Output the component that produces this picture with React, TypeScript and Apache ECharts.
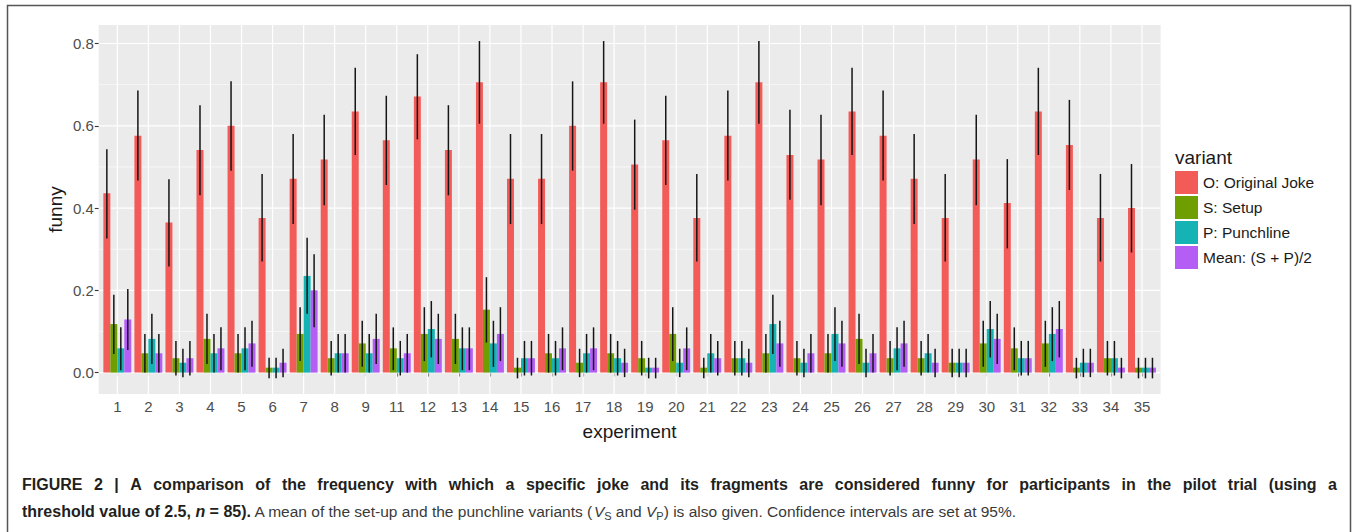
import React, { useEffect, useRef } from "react";
import * as echarts from "echarts";

const experiments = ["1", "2", "3", "4", "5", "6", "7", "8", "9", "11", "12", "13", "14", "15", "16", "17", "18", "19", "20", "21", "22", "23", "24", "25", "26", "27", "28", "29", "30", "31", "32", "33", "34", "35"];
const variantNames = ["O: Original Joke", "S: Setup", "P: Punchline", "Mean: (S + P)/2"];
const yTicks = [0, 0.2, 0.4, 0.6, 0.8];
const yMinor = [0.1, 0.3, 0.5, 0.7];

const origVals = [0.436, 0.576, 0.365, 0.541, 0.600, 0.376, 0.471, 0.518, 0.635, 0.565, 0.671, 0.541, 0.706, 0.471, 0.471, 0.600, 0.706, 0.506, 0.565, 0.376, 0.576, 0.706, 0.529, 0.518, 0.635, 0.576, 0.471, 0.376, 0.518, 0.412, 0.635, 0.553, 0.376, 0.400];
const origLo = [0.326, 0.467, 0.258, 0.431, 0.491, 0.270, 0.361, 0.407, 0.529, 0.456, 0.567, 0.431, 0.605, 0.361, 0.361, 0.491, 0.605, 0.396, 0.456, 0.270, 0.467, 0.605, 0.420, 0.407, 0.529, 0.467, 0.361, 0.270, 0.407, 0.302, 0.529, 0.444, 0.270, 0.292];
const origHi = [0.543, 0.686, 0.470, 0.650, 0.708, 0.483, 0.580, 0.627, 0.741, 0.673, 0.774, 0.650, 0.806, 0.580, 0.580, 0.708, 0.806, 0.615, 0.673, 0.483, 0.686, 0.806, 0.639, 0.627, 0.741, 0.686, 0.580, 0.483, 0.627, 0.519, 0.741, 0.663, 0.483, 0.507];

const setupVals = [0.118, 0.047, 0.035, 0.082, 0.047, 0.012, 0.094, 0.035, 0.071, 0.059, 0.094, 0.082, 0.153, 0.012, 0.047, 0.024, 0.047, 0.035, 0.094, 0.012, 0.035, 0.047, 0.035, 0.047, 0.082, 0.035, 0.035, 0.024, 0.071, 0.059, 0.071, 0.012, 0.035, 0.012];
const setupLo = [0.045, 0.000, -0.007, 0.021, 0.000, -0.014, 0.028, -0.007, 0.014, 0.006, 0.028, 0.021, 0.073, -0.014, 0.000, -0.011, 0.000, -0.007, 0.028, -0.014, -0.007, 0.000, -0.007, 0.000, 0.021, -0.007, -0.007, -0.011, 0.014, 0.006, 0.014, -0.014, -0.007, -0.014];
const setupHi = [0.189, 0.094, 0.077, 0.143, 0.094, 0.036, 0.159, 0.077, 0.126, 0.110, 0.159, 0.143, 0.232, 0.036, 0.094, 0.058, 0.094, 0.077, 0.159, 0.036, 0.077, 0.094, 0.077, 0.094, 0.143, 0.077, 0.077, 0.058, 0.126, 0.110, 0.126, 0.036, 0.077, 0.036];

const punchVals = [0.059, 0.082, 0.024, 0.047, 0.059, 0.012, 0.235, 0.047, 0.047, 0.035, 0.106, 0.059, 0.071, 0.035, 0.035, 0.047, 0.035, 0.012, 0.024, 0.047, 0.035, 0.118, 0.024, 0.094, 0.024, 0.059, 0.047, 0.024, 0.106, 0.035, 0.094, 0.024, 0.035, 0.012];
const punchLo = [0.006, 0.021, -0.011, 0.000, 0.006, -0.014, 0.143, 0.000, 0.000, -0.007, 0.037, 0.006, 0.014, -0.007, -0.007, 0.000, -0.007, -0.014, -0.011, 0.000, -0.007, 0.045, -0.011, 0.028, -0.011, 0.006, 0.000, -0.011, 0.037, -0.007, 0.028, -0.011, -0.007, -0.014];
const punchHi = [0.110, 0.143, 0.058, 0.094, 0.110, 0.036, 0.328, 0.094, 0.094, 0.077, 0.174, 0.110, 0.126, 0.077, 0.077, 0.094, 0.077, 0.036, 0.058, 0.094, 0.077, 0.189, 0.058, 0.159, 0.058, 0.110, 0.094, 0.058, 0.174, 0.077, 0.159, 0.058, 0.077, 0.036];

const meanVals = [0.129, 0.047, 0.035, 0.059, 0.071, 0.024, 0.200, 0.047, 0.082, 0.047, 0.082, 0.059, 0.094, 0.035, 0.059, 0.059, 0.024, 0.012, 0.059, 0.035, 0.024, 0.071, 0.047, 0.071, 0.047, 0.071, 0.024, 0.024, 0.082, 0.035, 0.106, 0.024, 0.012, 0.012];
const meanLo = [0.055, 0.000, -0.007, 0.006, 0.014, -0.011, 0.110, 0.000, 0.021, 0.000, 0.021, 0.006, 0.028, -0.007, 0.006, 0.006, -0.011, -0.014, 0.006, -0.007, -0.011, 0.014, 0.000, 0.014, 0.000, 0.014, -0.011, -0.011, 0.021, -0.007, 0.037, -0.011, -0.014, -0.014];
const meanHi = [0.203, 0.094, 0.077, 0.110, 0.126, 0.058, 0.288, 0.094, 0.143, 0.094, 0.143, 0.110, 0.159, 0.077, 0.110, 0.110, 0.058, 0.036, 0.110, 0.077, 0.058, 0.126, 0.094, 0.126, 0.094, 0.126, 0.058, 0.058, 0.143, 0.077, 0.174, 0.058, 0.036, 0.036];

const captionLine1 = "FIGURE 2 | A comparison of the frequency with which a specific joke and its fragments are considered funny for participants in the pilot trial (using a";

const FONT = "'Liberation Sans', Arial, Helvetica, sans-serif";
const COLORS = ["#F35B58", "#6E9E00", "#16B3B5", "#B45EF6"];
const CAP_SIZE = 16;

function justifiedRich(text: string, targetWidth: number) {
  const words = text.split(" ");
  let spaceW = 4.5;
  try {
    const ctx = document.createElement("canvas").getContext("2d");
    if (ctx) {
      ctx.font = `bold ${CAP_SIZE}px 'Liberation Sans', Arial, sans-serif`;
      const sum = words.reduce((s, w) => s + ctx.measureText(w).width, 0);
      spaceW = (targetWidth - sum) / (words.length - 1);
    }
  } catch (e) {
    // keep default spacing
  }
  return { str: words.map((w) => `{b|${w}}`).join("{sp| }"), spaceW };
}

export default function App() {
  const ref = useRef<HTMLDivElement>(null);

  useEffect(() => {
    const chart = echarts.init(ref.current!, null, { renderer: "svg" });
    const vals = [origVals, setupVals, punchVals, meanVals];
    const los = [origLo, setupLo, punchLo, meanLo];
    const his = [origHi, setupHi, punchHi, meanHi];

    const barSeries = variantNames.map((name, k) => ({
      name,
      type: "bar",
      z: 3,
      data: vals[k],
      barGap: "0%",
      barCategoryGap: "10%",
      itemStyle: { color: COLORS[k] },
      emphasis: { disabled: true },
    }));

    const errSeries = variantNames.map((name, k) => ({
      name: "err" + k,
      type: "custom",
      z: 4,
      silent: true,
      encode: { x: 0, y: [1, 2] },
      data: experiments.map((_, i) => [i, los[k][i], his[k][i]]),
      renderItem: (params: any, api: any) => {
        const band = api.size([1, 0])[0];
        const bw = (band * 0.9) / 4;
        const off = (k - 1.5) * bw;
        const p1 = api.coord([api.value(0), api.value(1)]);
        const p2 = api.coord([api.value(0), api.value(2)]);
        return {
          type: "line",
          shape: { x1: p1[0] + off, y1: p1[1], x2: p2[0] + off, y2: p2[1] },
          style: { stroke: "#151515", lineWidth: 1.5 },
        };
      },
    }));

    const bgSeries = {
      name: "bg",
      type: "custom",
      z: 0,
      silent: true,
      encode: { x: 0, y: 1 },
      data: [[0, 0]],
      renderItem: (params: any, api: any) => {
        const cs = params.coordSys;
        const ext = api.size([1, 0])[0] * 0.1;
        return {
          type: "rect",
          shape: { x: cs.x - ext, y: cs.y, width: cs.width + 2 * ext, height: cs.height },
          style: { fill: "#EBEBEB" },
        };
      },
    };

    const hGridSeries = {
      name: "hgrid",
      type: "custom",
      z: 1,
      silent: true,
      encode: { x: 0, y: 1 },
      data: [...yTicks.map((v) => [0, v, 1]), ...yMinor.map((v) => [0, v, 0])],
      renderItem: (params: any, api: any) => {
        const cs = params.coordSys;
        const ext = api.size([1, 0])[0] * 0.1;
        const y = api.coord([0, api.value(1)])[1];
        const major = api.value(2) === 1;
        return {
          type: "line",
          shape: { x1: cs.x - ext, y1: y, x2: cs.x + cs.width + ext, y2: y },
          style: { stroke: "#FFFFFF", lineWidth: major ? 1.2 : 0.6 },
        };
      },
    };

    const vGridSeries = {
      name: "vgrid",
      type: "custom",
      z: 1,
      silent: true,
      encode: { x: 0, y: 1 },
      data: experiments.map((_, i) => [i, 0]),
      renderItem: (params: any, api: any) => {
        const cs = params.coordSys;
        const x = api.coord([api.value(0), 0])[0];
        return {
          type: "line",
          shape: { x1: x, y1: cs.y, x2: x, y2: cs.y + cs.height },
          style: { stroke: "#FFFFFF", lineWidth: 1.2 },
        };
      },
    };

    const line1 = justifiedRich(captionLine1, 1315);

    const option: any = {
      animation: false,
      backgroundColor: "#FFFFFF",
      textStyle: { fontFamily: FONT },
      grid: { left: 101.8, right: 199.5, top: 25, bottom: 138, containLabel: false },
      xAxis: {
        type: "category",
        data: experiments,
        axisLine: { show: false },
        axisTick: { show: true, alignWithLabel: true, length: 4, lineStyle: { color: "#333333", width: 1.1 } },
        axisLabel: { color: "#4D4D4D", fontSize: 15, margin: 5, interval: 0, fontFamily: FONT },
        splitLine: { show: false },
      },
      yAxis: {
        type: "value",
        min: -0.052,
        max: 0.845,
        offset: 3,
        axisLine: { show: false },
        axisTick: { show: true, length: 4, customValues: yTicks, lineStyle: { color: "#333333", width: 1.1 } },
        axisLabel: {
          customValues: yTicks,
          color: "#4D4D4D",
          fontSize: 15,
          margin: 5,
          fontFamily: FONT,
          formatter: (v: number) => v.toFixed(1),
        },
        splitLine: { show: false },
      },
      legend: {
        data: variantNames,
        orient: "vertical",
        left: 1175,
        top: 171,
        padding: 0,
        itemWidth: 23,
        itemHeight: 23,
        itemGap: 2,
        icon: "rect",
        selectedMode: false,
        textStyle: { fontSize: 15.5, color: "#1A1A1A", fontFamily: FONT },
      },
      graphic: [
        {
          type: "rect",
          shape: { x: 7.5, y: 5.5, width: 1343, height: 600 },
          style: { fill: "none", stroke: "#555555", lineWidth: 1.5 },
          silent: true,
        },
        {
          type: "text",
          x: 1175,
          y: 157,
          style: { text: "variant", fontSize: 19, fill: "#1A1A1A", fontFamily: FONT, textVerticalAlign: "middle", textAlign: "left" },
        },
        {
          type: "text",
          x: 55,
          y: 209.5,
          rotation: Math.PI / 2,
          style: { text: "funny", fontSize: 19, fill: "#1A1A1A", fontFamily: FONT, textAlign: "center", textVerticalAlign: "middle" },
        },
        {
          type: "text",
          x: 629.6,
          y: 431,
          style: { text: "experiment", fontSize: 19, fill: "#1A1A1A", fontFamily: FONT, textAlign: "center", textVerticalAlign: "middle" },
        },
        {
          type: "text",
          x: 22,
          y: 484,
          style: {
            text: line1.str,
            fontFamily: FONT,
            textVerticalAlign: "middle",
            rich: {
              b: { fontSize: CAP_SIZE, fontWeight: "bold", fill: "#231F20", fontFamily: FONT },
              sp: { fontSize: CAP_SIZE, fontWeight: "bold", fill: "#231F20", fontFamily: FONT, width: line1.spaceW },
            },
          },
        },
        {
          type: "text",
          x: 22,
          y: 511,
          style: {
            text:
              "{b|threshold value of 2.5, }{bi|n}{b| = 85).}{r| A mean of the set-up and the punchline variants (}{ri|V}{sub|S}{r| and }{ri|V}{sub|P}{r|) is also given. Confidence intervals are set at 95%.}",
            fontFamily: FONT,
            textVerticalAlign: "middle",
            rich: {
              b: { fontSize: CAP_SIZE, fontWeight: "bold", fill: "#231F20", fontFamily: FONT },
              bi: { fontSize: CAP_SIZE, fontWeight: "bold", fontStyle: "italic", fill: "#231F20", fontFamily: FONT },
              r: { fontSize: 15.5, fill: "#3A3A3A", fontFamily: FONT },
              ri: { fontSize: 15.5, fontStyle: "italic", fill: "#3A3A3A", fontFamily: FONT },
              sub: { fontSize: 11, fill: "#3A3A3A", fontFamily: FONT, padding: [9, 0, 0, 0] },
            },
          },
        },
      ],
      series: [bgSeries, hGridSeries, vGridSeries, ...barSeries, ...errSeries],
    };

    chart.setOption(option);
    return () => chart.dispose();
  }, []);

  return (
    <div
      ref={ref}
      style={{ position: "absolute", left: 0, top: 0, width: 1357, height: 532, background: "#FFFFFF" }}
    />
  );
}
